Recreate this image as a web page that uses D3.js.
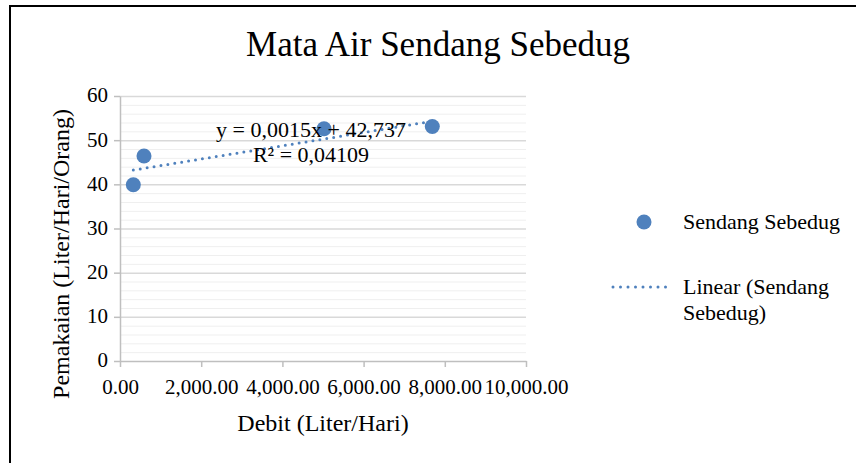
<!DOCTYPE html>
<html>
<head>
<meta charset="utf-8">
<script src="https://cdn.jsdelivr.net/npm/d3@7"></script>
<style>
html,body{margin:0;padding:0;background:#fff;}
svg{display:block;font-family:"Liberation Serif","Times New Roman",serif;}
</style>
</head>
<body>
<svg id="chart" width="856" height="463"></svg>
<script>
const chartTitle = "Mata Air Sendang Sebedug";
const xTitle = "Debit (Liter/Hari)";
const yTitle = "Pemakaian (Liter/Hari/Orang)";
const seriesName = "Sendang Sebedug";
const trendName = ["Linear (Sendang", "Sebedug)"];
const debit = [328, 591, 5025, 7692];
const pemakaian = [39.9, 46.4, 52.6, 53.1];
const trendSlope = 0.0015;
const trendIntercept = 42.737;
const equationLines = ["y = 0,0015x + 42,737", "R\u00b2 = 0,04109"];
const xTicks = [0, 2000, 4000, 6000, 8000, 10000];
const yTicks = [0, 10, 20, 30, 40, 50, 60];
const yMinor = d3.range(0, 61, 2);

const svg = d3.select("#chart");
const blue = "#4f81bd";
const serif = "Liberation Serif";

// outer border
svg.append("rect").attr("x", 10).attr("y", 6).attr("width", 900).attr("height", 500)
  .attr("fill", "none").attr("stroke", "#000").attr("stroke-width", 2);

const x = d3.scaleLinear().domain([0, 10000]).range([120, 526]);
const y = d3.scaleLinear().domain([0, 60]).range([361, 96]);

// minor gridlines
svg.append("g").selectAll("line").data(yMinor.filter(v => v % 10 !== 0)).join("line")
  .attr("x1", x(0)).attr("x2", x(10000)).attr("y1", d => y(d) + 0.5).attr("y2", d => y(d) + 0.5)
  .attr("stroke", "#efefef").attr("stroke-width", 1);
// major gridlines
svg.append("g").selectAll("line").data(yTicks.filter(v => v > 0)).join("line")
  .attr("x1", x(0)).attr("x2", x(10000)).attr("y1", d => y(d) + 0.5).attr("y2", d => y(d) + 0.5)
  .attr("stroke", "#d9d9d9").attr("stroke-width", 1.5);

const fmtX = d3.format(",.2f");

// x axis
const xAxis = svg.append("g").attr("transform", `translate(0,${y(0)})`)
  .call(d3.axisBottom(x).tickValues(xTicks).tickFormat(fmtX).tickSize(6).tickSizeOuter(0));
xAxis.attr("font-family", serif);
xAxis.select(".domain").attr("stroke", "#bfbfbf").attr("stroke-width", 1.5);
xAxis.selectAll(".tick line").attr("stroke", "#bfbfbf").attr("stroke-width", 1.5);
xAxis.selectAll(".tick text").attr("font-family", serif).attr("font-size", 21)
  .attr("fill", "#000").attr("dy", null).attr("y", 33);

// y axis
const yAxis = svg.append("g").attr("transform", `translate(${x(0)},0)`)
  .call(d3.axisLeft(y).tickValues(yTicks).tickSize(6).tickSizeOuter(0));
yAxis.attr("font-family", serif);
yAxis.select(".domain").attr("stroke", "#bfbfbf").attr("stroke-width", 1.5);
yAxis.selectAll(".tick line").attr("stroke", "#bfbfbf").attr("stroke-width", 1.5);
yAxis.selectAll(".tick text").attr("font-family", serif).attr("font-size", 21)
  .attr("fill", "#000").attr("x", -12).attr("dy", "0.28em");

// trendline
const xMin = d3.min(debit), xMax = d3.max(debit);
svg.append("line")
  .attr("x1", x(xMin)).attr("y1", y(trendSlope * xMin + trendIntercept))
  .attr("x2", x(xMax)).attr("y2", y(trendSlope * xMax + trendIntercept))
  .attr("stroke", blue).attr("stroke-width", 3).attr("stroke-linecap", "round")
  .attr("stroke-dasharray", "0,7");

// points
svg.append("g").selectAll("circle").data(debit.map((d, i) => [d, pemakaian[i]])).join("circle")
  .attr("cx", d => x(d[0])).attr("cy", d => y(d[1])).attr("r", 7.5).attr("fill", blue);

// equation label
svg.append("g").selectAll("text").data(equationLines).join("text")
  .attr("x", 311).attr("y", (d, i) => 137 + i * 25).attr("text-anchor", "middle")
  .attr("font-size", 22).attr("fill", "#000").text(d => d);

// titles
svg.append("text").attr("x", 438).attr("y", 56).attr("text-anchor", "middle")
  .attr("font-size", 35).attr("fill", "#000").text(chartTitle);
svg.append("text").attr("x", 323).attr("y", 431).attr("text-anchor", "middle")
  .attr("font-size", 24).attr("fill", "#000").text(xTitle);
svg.append("text").attr("transform", "translate(69,254) rotate(-90)").attr("text-anchor", "middle")
  .attr("font-size", 24).attr("fill", "#000").text(yTitle);

// legend
svg.append("circle").attr("cx", 644).attr("cy", 222).attr("r", 7.5).attr("fill", blue);
svg.append("text").attr("x", 683).attr("y", 229).attr("font-size", 22).attr("fill", "#000").text(seriesName);
svg.append("line").attr("x1", 613).attr("x2", 673).attr("y1", 287).attr("y2", 287)
  .attr("stroke", blue).attr("stroke-width", 3).attr("stroke-linecap", "round").attr("stroke-dasharray", "0,7.5");
svg.append("g").selectAll("text").data(trendName).join("text")
  .attr("x", 683).attr("y", (d, i) => 294 + i * 26).attr("font-size", 22).attr("fill", "#000").text(d => d);
</script>
</body>
</html>
